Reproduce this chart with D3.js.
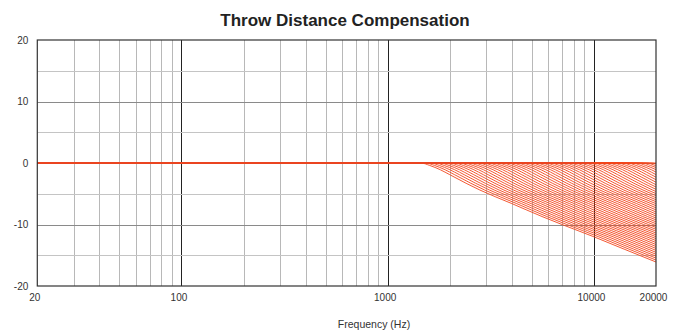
<!DOCTYPE html>
<html>
<head>
<meta charset="utf-8">
<script src="https://cdn.jsdelivr.net/npm/d3@7/dist/d3.min.js"></script>
<style>
  html, body { margin: 0; padding: 0; background: #fff; }
  svg { display: block; font-family: "Liberation Sans", Arial, Helvetica, sans-serif; }
</style>
</head>
<body>
<svg id="chart" width="673" height="331"></svg>
<script>
// Steepest compensation curve (shortest setting): frequency in Hz, gain in dB
const baseFreq = [20, 1000, 1450, 1600, 1800, 2000, 2400, 2800, 4000, 5600, 7000, 10000, 14000, 20000];
const baseGain = [0, 0, 0, -0.4, -1.1, -1.9, -3.3, -4.4, -6.6, -8.7, -10.0, -12.0, -14.0, -16.1];

// The family of settings: the same curve slid up in frequency, step by step,
// until its knee reaches the top of the band
const curveCount = 50;
const maxShiftDecades = 1.14;

// Flat reference response drawn as the heavy line
const flatFreq = [20, 10000];
const flatGain = [0, 0];

const xTicks = [20, 100, 1000, 10000, 20000];
const yTicks = [-20, -10, 0, 10, 20];
const title = "Throw Distance Compensation";
const xLabel = "Frequency (Hz)";

const W = 673, H = 331;
const margin = { top: 40, right: 17, bottom: 45, left: 37.3 };
const svg = d3.select("#chart");

const x = d3.scaleLog().domain([20, 20000]).range([margin.left, W - margin.right]);
const y = d3.scaleLinear().domain([-20, 20]).range([H - margin.bottom, margin.top]);

// Clip region for the curves
svg.append("defs").append("clipPath").attr("id", "plot-clip")
  .append("rect")
  .attr("x", x.range()[0]).attr("y", y.range()[1])
  .attr("width", x.range()[1] - x.range()[0])
  .attr("height", y.range()[0] - y.range()[1]);

// Vertical grid: 1..9 per decade
const minorX = [];
for (let d = 10; d <= 10000; d *= 10) {
  for (let m = 1; m <= 9; m++) {
    const f = d * m;
    if (f > 20 && f < 20000) minorX.push(f);
  }
}
const grid = svg.append("g");
grid.selectAll("line.vx").data(minorX).join("line")
  .attr("x1", d => Math.round(x(d)) + 0.5).attr("x2", d => Math.round(x(d)) + 0.5)
  .attr("y1", y(20)).attr("y2", y(-20))
  .attr("stroke", d => [100, 1000, 10000].includes(d) ? "#222" : "#b8b8b8")
  .attr("stroke-width", 1);

// Horizontal grid every 5 dB
const gridY = d3.range(-15, 20, 5);
grid.selectAll("line.hy").data(gridY).join("line")
  .attr("x1", x(20)).attr("x2", x(20000))
  .attr("y1", d => Math.round(y(d)) + 0.5).attr("y2", d => Math.round(y(d)) + 0.5)
  .attr("stroke", d => d % 10 === 0 ? "#8a8a8a" : "#c4c4c4")
  .attr("stroke-width", 1);

// Compensation curves
const line = d3.line()
  .x(d => x(d[0]))
  .y(d => y(d[1]))
  .curve(d3.curveMonotoneX);

const shifts = d3.range(curveCount).map(i => Math.pow(10, i * maxShiftDecades / (curveCount - 1)));
const curves = shifts.map(k => {
  const pts = baseFreq.map((f, i) => [f * k, baseGain[i]]);
  pts[0] = [20, 0];
  return pts;
});

const plot = svg.append("g").attr("clip-path", "url(#plot-clip)");
plot.selectAll("path.fan").data(curves).join("path")
  .attr("fill", "none")
  .attr("stroke", "#f2451c")
  .attr("stroke-width", 0.9)
  .attr("d", line);

plot.append("path")
  .datum(flatFreq.map((f, i) => [f, flatGain[i]]))
  .attr("fill", "none")
  .attr("stroke", "#ea4420")
  .attr("stroke-width", 2.2)
  .attr("d", d3.line().x(d => x(d[0])).y(d => y(d[1])));

// Frame
svg.append("rect")
  .attr("x", x(20)).attr("y", y(20))
  .attr("width", x(20000) - x(20)).attr("height", y(-20) - y(20))
  .attr("fill", "none").attr("stroke", "#333").attr("stroke-width", 1.2);

// Axis labels (plain hyphen for negatives)
const fmt = d => String(d);
const xAxis = d3.axisBottom(x).tickValues(xTicks).tickFormat(fmt).tickSize(0).tickPadding(8);
svg.append("g").attr("transform", `translate(-3,${y(-20)})`).call(xAxis)
  .call(g => g.select(".domain").remove())
  .call(g => g.selectAll("text").attr("font-size", 10).attr("fill", "#333")
    .attr("font-family", "'Liberation Sans', Arial, sans-serif"));

const yAxis = d3.axisLeft(y).tickValues(yTicks).tickFormat(fmt).tickSize(0).tickPadding(9);
svg.append("g").attr("transform", `translate(${x(20)},0)`).call(yAxis)
  .call(g => g.select(".domain").remove())
  .call(g => g.selectAll("text").attr("font-size", 10).attr("fill", "#333")
    .attr("font-family", "'Liberation Sans', Arial, sans-serif"));

svg.append("text")
  .attr("x", 345).attr("y", 26)
  .attr("text-anchor", "middle")
  .attr("font-size", 17).attr("font-weight", "bold").attr("fill", "#222")
  .text(title);

svg.append("text")
  .attr("x", 374).attr("y", 328)
  .attr("text-anchor", "middle")
  .attr("font-size", 10.5).attr("fill", "#333")
  .text(xLabel);
</script>
</body>
</html>
